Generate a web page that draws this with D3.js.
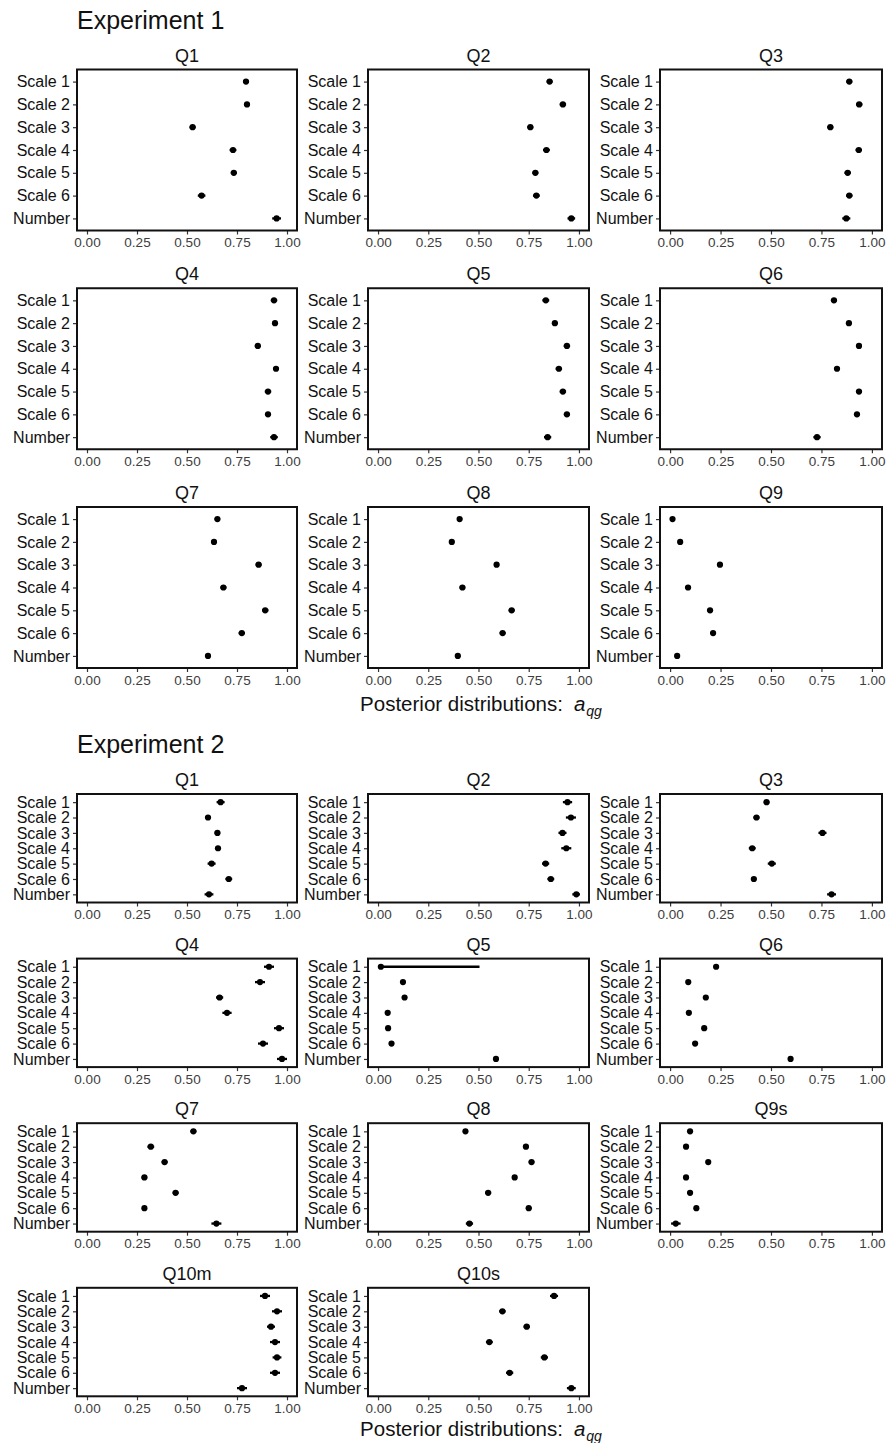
<!DOCTYPE html>
<html>
<head>
<meta charset="utf-8">
<script src="https://cdn.jsdelivr.net/npm/d3@7"></script>
<style>
  body { margin: 0; background: #fff; }
  text { font-family: "Liberation Sans", Arial, Helvetica, sans-serif; }
</style>
</head>
<body>
<script>
// rows shown in every panel, top to bottom
const rowLabels = ["Scale 1", "Scale 2", "Scale 3", "Scale 4", "Scale 5", "Scale 6", "Number"]
const xTicks = [0, 0.25, 0.5, 0.75, 1]

// Experiment 1: posterior median and interval per panel (one array per panel, in row order)
const exp1Titles = ["Q1", "Q2", "Q3", "Q4", "Q5", "Q6", "Q7", "Q8", "Q9"]
const exp1Mid = [
  [0.795, 0.800, 0.528, 0.730, 0.734, 0.573, 0.948],
  [0.854, 0.920, 0.758, 0.838, 0.783, 0.788, 0.962],
  [0.888, 0.937, 0.794, 0.935, 0.880, 0.888, 0.873],
  [0.935, 0.940, 0.854, 0.945, 0.905, 0.905, 0.935],
  [0.835, 0.880, 0.940, 0.900, 0.920, 0.940, 0.844],
  [0.812, 0.886, 0.936, 0.827, 0.936, 0.926, 0.728],
  [0.652, 0.635, 0.858, 0.682, 0.891, 0.774, 0.605],
  [0.406, 0.367, 0.590, 0.420, 0.665, 0.620, 0.397],
  [0.012, 0.050, 0.247, 0.089, 0.198, 0.213, 0.035]
]
const exp1Lo = [
  [0.780, 0.785, 0.513, 0.713, 0.719, 0.554, 0.926],
  [0.839, 0.904, 0.743, 0.821, 0.768, 0.771, 0.943],
  [0.873, 0.921, 0.779, 0.919, 0.864, 0.872, 0.853],
  [0.919, 0.926, 0.839, 0.930, 0.889, 0.891, 0.916],
  [0.818, 0.866, 0.924, 0.884, 0.904, 0.925, 0.826],
  [0.797, 0.872, 0.921, 0.812, 0.921, 0.912, 0.710],
  [0.638, 0.621, 0.843, 0.667, 0.875, 0.758, 0.591],
  [0.393, 0.354, 0.577, 0.406, 0.650, 0.605, 0.384],
  [0.001, 0.038, 0.234, 0.076, 0.184, 0.199, 0.023]
]
const exp1Hi = [
  [0.810, 0.815, 0.543, 0.747, 0.749, 0.592, 0.970],
  [0.869, 0.936, 0.773, 0.855, 0.798, 0.805, 0.981],
  [0.903, 0.953, 0.809, 0.951, 0.896, 0.904, 0.893],
  [0.951, 0.954, 0.869, 0.960, 0.921, 0.919, 0.954],
  [0.852, 0.894, 0.956, 0.916, 0.936, 0.955, 0.862],
  [0.827, 0.900, 0.951, 0.842, 0.951, 0.940, 0.746],
  [0.666, 0.649, 0.873, 0.697, 0.907, 0.790, 0.619],
  [0.419, 0.380, 0.603, 0.434, 0.680, 0.635, 0.410],
  [0.023, 0.062, 0.260, 0.102, 0.212, 0.227, 0.047]
]

// Experiment 2
const exp2Titles = ["Q1", "Q2", "Q3", "Q4", "Q5", "Q6", "Q7", "Q8", "Q9s", "Q10m", "Q10s"]
const exp2Mid = [
  [0.668, 0.605, 0.652, 0.655, 0.623, 0.709, 0.610],
  [0.943, 0.960, 0.918, 0.937, 0.834, 0.860, 0.987],
  [0.478, 0.428, 0.755, 0.407, 0.504, 0.415, 0.800],
  [0.910, 0.865, 0.663, 0.700, 0.960, 0.880, 0.975],
  [0.014, 0.124, 0.132, 0.048, 0.050, 0.067, 0.587],
  [0.228, 0.090, 0.177, 0.093, 0.169, 0.124, 0.597],
  [0.532, 0.319, 0.388, 0.287, 0.443, 0.287, 0.647],
  [0.435, 0.736, 0.764, 0.680, 0.548, 0.750, 0.455],
  [0.099, 0.079, 0.189, 0.079, 0.099, 0.130, 0.028],
  [0.890, 0.950, 0.920, 0.940, 0.950, 0.940, 0.775],
  [0.876, 0.619, 0.740, 0.554, 0.828, 0.655, 0.962]
]
const exp2Lo = [
  [0.648, 0.592, 0.638, 0.640, 0.603, 0.692, 0.588],
  [0.920, 0.935, 0.898, 0.912, 0.816, 0.843, 0.967],
  [0.464, 0.413, 0.735, 0.390, 0.484, 0.403, 0.778],
  [0.885, 0.840, 0.645, 0.677, 0.935, 0.855, 0.950],
  [0.000, 0.113, 0.121, 0.038, 0.040, 0.057, 0.577],
  [0.217, 0.080, 0.167, 0.082, 0.158, 0.114, 0.587],
  [0.517, 0.302, 0.373, 0.273, 0.428, 0.275, 0.622],
  [0.423, 0.723, 0.750, 0.668, 0.533, 0.736, 0.437],
  [0.087, 0.069, 0.177, 0.069, 0.087, 0.119, 0.005],
  [0.865, 0.925, 0.900, 0.915, 0.928, 0.915, 0.750],
  [0.856, 0.603, 0.724, 0.537, 0.810, 0.637, 0.940]
]
const exp2Hi = [
  [0.688, 0.618, 0.666, 0.670, 0.643, 0.726, 0.632],
  [0.966, 0.985, 0.938, 0.962, 0.852, 0.877, 1.005],
  [0.492, 0.443, 0.775, 0.424, 0.524, 0.427, 0.822],
  [0.935, 0.890, 0.681, 0.723, 0.985, 0.905, 1.000],
  [0.505, 0.135, 0.143, 0.058, 0.060, 0.077, 0.597],
  [0.239, 0.100, 0.187, 0.104, 0.180, 0.134, 0.607],
  [0.547, 0.336, 0.403, 0.301, 0.458, 0.299, 0.672],
  [0.447, 0.749, 0.778, 0.692, 0.563, 0.764, 0.473],
  [0.111, 0.089, 0.201, 0.089, 0.111, 0.141, 0.052],
  [0.915, 0.975, 0.940, 0.965, 0.972, 0.965, 0.800],
  [0.896, 0.635, 0.756, 0.571, 0.846, 0.673, 0.984]
]

const width = 888, height = 1443
const cols = [[77, 297], [368, 589], [660, 882]]

let svg = d3.select("body").append("svg")
  .attr("width", width)
  .attr("height", height)

function panel(x0, x1, top, h, title, mid, lo, hi) {
  let x = d3.scaleLinear().domain([-0.05, 1.05]).range([x0, x1])
  let y = d3.scalePoint().domain(rowLabels).range([top, top + h]).padding(0.53)
  let g = svg.append("g")

  g.append("text")
    .attr("x", (x0 + x1) / 2)
    .attr("y", top - 8)
    .attr("text-anchor", "middle")
    .attr("font-size", 18)
    .attr("fill", "#111")
    .text(title)

  let ya = g.append("g")
    .attr("transform", "translate(" + x0 + ",0)")
    .call(d3.axisLeft(y).tickSize(4).tickPadding(3))
  ya.select(".domain").remove()
  ya.selectAll("line").attr("stroke", "#333").attr("stroke-width", 1.2)
  ya.selectAll("text").attr("font-size", 16).attr("fill", "#111")
    .style("font-family", "'Liberation Sans', Arial, sans-serif")

  let xa = g.append("g")
    .attr("transform", "translate(0," + (top + h) + ")")
    .call(d3.axisBottom(x).tickValues(xTicks).tickFormat(d3.format(".2f")).tickSize(4).tickPadding(3))
  xa.select(".domain").remove()
  xa.selectAll("line").attr("stroke", "#333").attr("stroke-width", 1.2)
  xa.selectAll("text").attr("font-size", 13.5).attr("fill", "#3d3d3d")
    .style("font-family", "'Liberation Sans', Arial, sans-serif")

  let rows = rowLabels.map((k, i) => ({key: k, m: mid[i], l: lo[i], u: hi[i]}))

  g.selectAll(".rng").data(rows).enter().append("line")
    .attr("x1", d => x(d.l))
    .attr("x2", d => x(d.u))
    .attr("y1", d => y(d.key))
    .attr("y2", d => y(d.key))
    .attr("stroke", "#000")
    .attr("stroke-width", 2.3)

  g.selectAll(".pt").data(rows).enter().append("circle")
    .attr("cx", d => x(d.m))
    .attr("cy", d => y(d.key))
    .attr("r", 3.1)
    .attr("fill", "#000")

  g.append("rect")
    .attr("x", x0).attr("y", top)
    .attr("width", x1 - x0).attr("height", h)
    .attr("fill", "none")
    .attr("stroke", "#111")
    .attr("stroke-width", 2)
}

function xTitle(yy) {
  let t = svg.append("text")
    .attr("x", 481).attr("y", yy)
    .attr("text-anchor", "middle")
    .attr("font-size", 20.5)
    .attr("fill", "#111")
  t.append("tspan").text("Posterior distributions:")
  t.append("tspan").attr("dx", 11).attr("font-style", "italic").text("a")
  t.append("tspan").attr("dx", 1).attr("dy", 5).attr("font-size", 14).attr("font-style", "italic").text("qg")
}

// Experiment 1
svg.append("text").attr("x", 77).attr("y", 29).attr("font-size", 25).attr("fill", "#111").text("Experiment 1")
exp1Titles.forEach((t, i) => {
  let c = cols[i % 3], r = Math.floor(i / 3)
  panel(c[0], c[1], 69.5 + r * 218.75, 161, t, exp1Mid[i], exp1Lo[i], exp1Hi[i])
})
xTitle(711)

// Experiment 2
svg.append("text").attr("x", 77).attr("y", 753).attr("font-size", 25).attr("fill", "#111").text("Experiment 2")
exp2Titles.forEach((t, i) => {
  let c = cols[i % 3], r = Math.floor(i / 3)
  panel(c[0], c[1], 794 + r * 164.6, 108.5, t, exp2Mid[i], exp2Lo[i], exp2Hi[i])
})
xTitle(1436)
</script>
</body>
</html>
